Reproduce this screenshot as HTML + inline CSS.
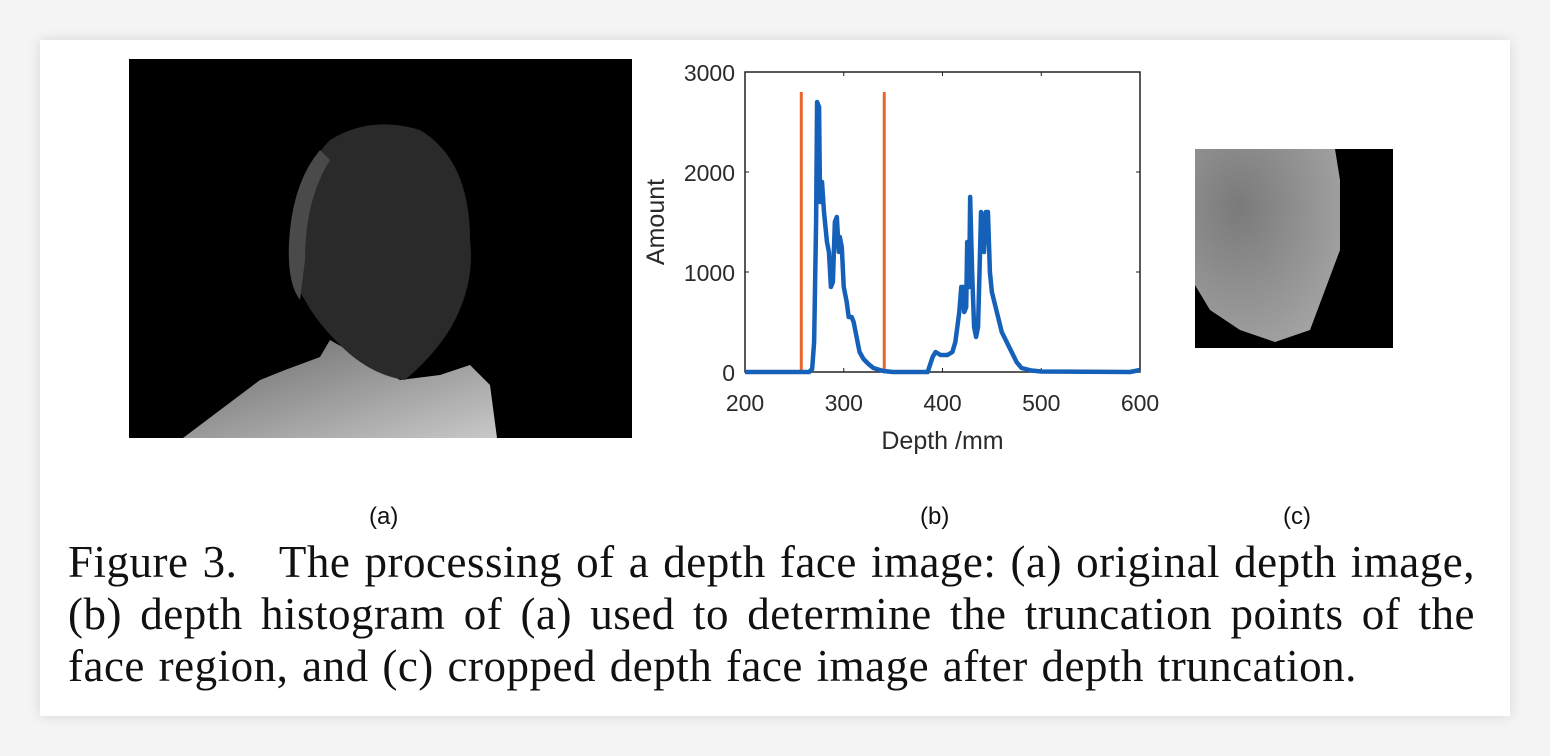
<!DOCTYPE html>
<html><head><meta charset="utf-8"><style>
html,body{margin:0;padding:0;width:1550px;height:756px;background:#f4f4f4;overflow:hidden}
#card{position:absolute;left:40px;top:40px;width:1470px;height:676px;background:#fff;box-shadow:0 0 12px rgba(0,0,0,0.12)}
.lab{position:absolute;font-family:"Liberation Sans",sans-serif;font-size:24px;color:#111}
.cl{position:absolute;left:68px;width:1407px;font-family:"Liberation Serif",serif;font-size:45px;letter-spacing:0.5px;word-spacing:2px;line-height:52px;color:#111;text-align:justify;text-align-last:justify;white-space:nowrap}
.cl.last{text-align-last:left}
svg{position:absolute;left:0;top:0}
</style></head><body>
<div id="card"></div>
<svg width="1550" height="756">
 <defs>
  <linearGradient id="sh" x1="0" y1="0" x2="1" y2="1"><stop offset="0" stop-color="#6a6a6a"/><stop offset="1" stop-color="#c8c8c8"/></linearGradient>
  <radialGradient id="fc" cx="0.3" cy="0.3" r="0.9"><stop offset="0" stop-color="#7a7a7a"/><stop offset="1" stop-color="#a8a8a8"/></radialGradient>
 </defs>
 <g>
  <rect x="129" y="59" width="503" height="379" fill="#000"/>
  <path d="M183 438 L260 380 L285 370 L320 357 L330 340 L400 380 L440 375 L470 365 L490 385 L497 438 Z" fill="url(#sh)"/>
  <path d="M292 230 Q300 170 330 140 Q370 115 420 130 Q470 160 470 240 Q475 280 455 320 Q440 350 405 380 Q370 375 340 345 Q315 320 305 300 Q290 280 292 230 Z" fill="#2a2a2a"/>
  <path d="M290 230 Q295 180 320 150 L330 160 Q305 200 305 260 L300 300 Q285 280 290 230Z" fill="#4a4a4a"/>
 </g>
 <g>
  <rect x="1195" y="149" width="198" height="199" fill="#000"/>
  <path d="M1195 149 L1335 149 L1340 180 L1340 250 L1325 290 L1310 330 L1275 342 L1240 330 L1210 310 L1195 285 Z" fill="url(#fc)"/>
 </g>
 <g id="chart"></g>
</svg>
<div class="lab" style="left:369px;top:503px">(a)</div>
<div class="lab" style="left:920px;top:503px">(b)</div>
<div class="lab" style="left:1283px;top:503px">(c)</div>
<div>
<div class="cl" style="top:536px">Figure 3.&nbsp;&nbsp; The processing of a depth face image: (a) original depth image,</div>
<div class="cl" style="top:588px">(b) depth histogram of (a) used to determine the truncation points of the</div>
<div class="cl last" style="top:640px">face region, and (c) cropped depth face image after depth truncation.</div>
</div>
<script>
const depths=[200,255,265,268,270,272,273,275,276,278,280,283,285,287,289,291,293,295,296,298,300,303,305,308,310,313,316,320,325,330,340,350,385,390,393,398,405,410,413,417,419,421,422,424,425,427,428,430,432,434,436,438,439,441,442,444,446,448,450,455,460,465,470,475,480,490,500,590,600];
const amounts=[0,0,0,30,300,1500,2700,2650,1700,1900,1600,1300,1200,850,900,1500,1550,1200,1350,1250,850,700,550,550,500,350,200,130,80,40,10,0,0,150,200,170,170,200,300,600,850,850,600,650,1300,850,1750,1000,450,350,450,1200,1600,1550,1200,1600,1600,1000,800,600,400,300,200,100,40,15,5,0,20];
const truncations=[257,341];
const truncHeight=2800;
const xTicks=[200,300,400,500,600];
const yTicks=[0,1000,2000,3000];
const L=745,R=1140,T=72,B=372;
const X=v=>L+(v-200)/400*(R-L);
const Y=v=>B-v/3000*(B-T);
const g=document.getElementById('chart');
const NS='http://www.w3.org/2000/svg';
function mk(t,a){const e=document.createElementNS(NS,t);for(const k in a)e.setAttribute(k,a[k]);g.appendChild(e);return e;}
const box=mk('rect',{x:L,y:T,width:R-L,height:B-T,fill:'none',stroke:'#222','stroke-width':1.5});


xTicks.forEach(t=>{
 const l=mk('path',{d:`M${X(t)} ${B}v-4M${X(t)} ${T}v4`,stroke:'#222'});
 
 
 const tx=mk('text',{x:X(t),y:B+39,'text-anchor':'middle','font-family':'Liberation Sans, sans-serif','font-size':23,fill:'#2a2a2a'});
 tx.textContent=t;
 
 
});
yTicks.forEach(t=>{
 const l=mk('path',{d:`M${L} ${Y(t)}h4M${R} ${Y(t)}h-4`,stroke:'#222'});
 
 
 const tx=mk('text',{x:L-10,y:Y(t)+9,'text-anchor':'end','font-family':'Liberation Sans, sans-serif','font-size':23,fill:'#2a2a2a'});
 tx.textContent=t;
 
 
});
const xt=mk('text',{x:(L+R)/2,y:449,'text-anchor':'middle','font-family':'Liberation Sans, sans-serif','font-size':25,fill:'#2a2a2a'});
xt.textContent='Depth /mm';


const yt=mk('text',{x:0,y:0,'text-anchor':'middle','font-family':'Liberation Sans, sans-serif','font-size':25,fill:'#2a2a2a',transform:`translate(664,${(T+B)/2}) rotate(-90)`});
yt.textContent='Amount';


truncations.forEach(d=>{
 const l=mk('line',{x1:X(d),x2:X(d),y1:Y(0),y2:Y(truncHeight),stroke:'#e8662a','stroke-width':3});
 
 
});
const pl=mk('polyline',{points:depths.map((d,i)=>X(d)+','+Y(amounts[i])).join(' '),fill:'none',stroke:'#1560b8','stroke-width':4.5,'stroke-linejoin':'round'});


</script>
</body></html>
